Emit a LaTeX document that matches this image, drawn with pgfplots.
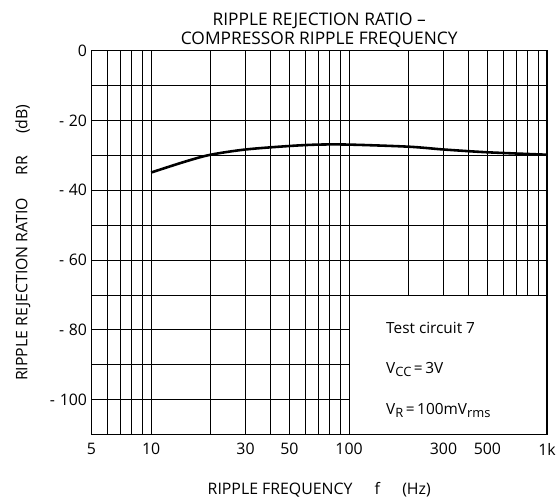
\documentclass[border=0pt]{standalone}
\usepackage{pgfplots}
\pgfplotsset{compat=1.18}
\usepackage{fontspec}
\setmainfont{Open Sans}
\newcommand{\sub}[1]{\raisebox{-0.4ex}{\fontsize{13}{14}\selectfont #1}}
\begin{document}
\begin{tikzpicture}
\begin{axis}[
  scale only axis,
  width=458bp, height=386bp,
  xmode=log, xmin=5, xmax=1000, ymin=-110, ymax=0,
  log basis x=10,
  xtick={5,10,30,50,100,300,500,1000},
  xticklabels={5,10,30,50,100,300,500,1k},
  minor xtick={6,7,8,9,20,40,60,70,80,90,200,400,600,700,800,900},
  ytick={0,-20,-40,-60,-80,-100},
  yticklabels={0,{-\hspace{0.3em}20},{-\hspace{0.3em}40},{-\hspace{0.3em}60},{-\hspace{0.3em}80},{-\hspace{0.3em}100}},
  minor ytick={-10,-30,-50,-70,-90,-110},
  grid=both,
  major grid style={black, line width=0.85pt},
  minor grid style={black, line width=0.85pt},
  major tick length=0pt, minor tick length=0pt,
  axis line style={black, line width=1.2pt},
  tick label style={font=\fontsize{16}{18}\selectfont},
  /pgf/number format/assume math mode=true,
  xticklabel style={yshift=-5pt},
  yticklabel style={xshift=-1pt},
  xlabel={RIPPLE FREQUENCY\hspace{1.4em}f\hspace{1.4em}(Hz)},
  ylabel={RIPPLE REJECTION RATIO\hspace{1.4em}RR\hspace{1.4em}(dB)},
  label style={font=\fontsize{16}{18}\selectfont},
  xlabel style={yshift=-21pt},
  ylabel style={yshift=13pt},
  title={RIPPLE REJECTION RATIO \textendash\\COMPRESSOR RIPPLE FREQUENCY},
  title style={font=\fontsize{17.5}{19}\selectfont, align=center, yshift=-6pt},
  clip=false,
]
\addplot[black, line width=2.6pt, smooth] coordinates {
  (10,-34.9) (15,-31.7) (20,-29.8) (30,-28.3) (50,-27.3) (70,-26.9) (100,-26.9)
  (200,-27.5) (300,-28.3) (500,-29.1) (1000,-29.8)
};
\fill[white] (axis cs:100,-110) rectangle (axis cs:1000,-70);
\draw[black, line width=1pt] (axis cs:100,-110) -- (axis cs:100,-70) -- (axis cs:1000,-70);
\draw[black, line width=1.2pt] (axis cs:1000,-110) -- (axis cs:1000,-70) (axis cs:100,-110) -- (axis cs:1000,-110);
\node[anchor=west, font=\fontsize{15.5}{17}\selectfont] at (axis cs:148,-79.5) {Test circuit 7};
\node[anchor=west, font=\fontsize{15.5}{17}\selectfont] at (axis cs:148,-91.3) {V\sub{CC}\,=\,3V};
\node[anchor=west, font=\fontsize{15.5}{17}\selectfont] at (axis cs:148,-103) {V\sub{R}\,=\,100mV\sub{rms}};
\end{axis}
\path (current axis.south west) ++(-92bp,-69bp);
\path (current axis.north east) ++(9bp,51bp);
\end{tikzpicture}
\end{document}
